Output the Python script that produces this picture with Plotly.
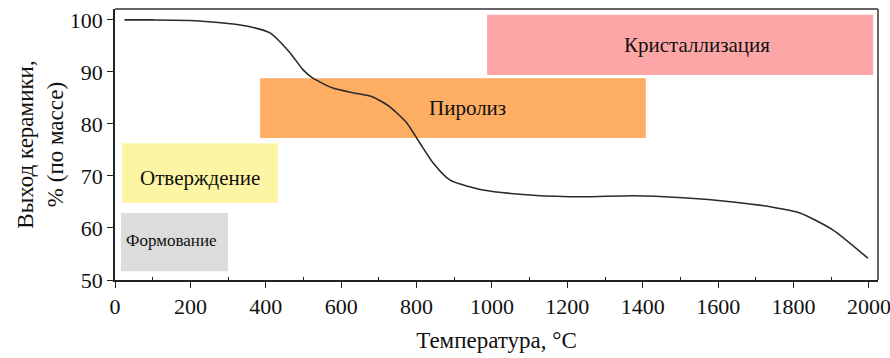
import plotly.graph_objects as go

temp = [25, 100, 200, 300, 358, 411, 464, 499, 525, 578, 631, 684, 729, 774, 809, 844, 889, 976,
        1109, 1241, 1374, 1507, 1639, 1745, 1817, 1905, 1997]
yield_pct = [100.0, 100.0, 99.9, 99.3, 98.7, 97.5, 93.7, 90.4, 88.8, 86.9, 86.0, 85.2, 83.3, 80.2,
             76.3, 72.5, 69.2, 67.3, 66.3, 66.0, 66.2, 65.8, 65.0, 64.0, 62.9, 59.6, 54.2]

stages = ["Формование", "Отверждение", "Пиролиз", "Кристаллизация"]
stage_x0 = [16, 19, 385, 987]
stage_x1 = [300, 432, 1408, 2011]
stage_y0 = [51.7, 64.8, 77.3, 89.4]
stage_y1 = [62.9, 76.3, 88.8, 101.0]
stage_colors = ["#dcdcdc", "#fcf6a4", "#fdae62", "#fda6a7"]
label_x = [151, 225, 936, 1544]
label_y = [57.5, 69.6, 83.0, 95.2]
label_sizes = [17, 21, 21, 21]

x_ticks = list(range(0, 2001, 200))
y_ticks = list(range(50, 101, 10))

font = "Liberation Serif"

fig = go.Figure()
shapes = []
annotations = []
for name, x0, x1, y0, y1, c, lx, ly, fs in zip(stages, stage_x0, stage_x1, stage_y0, stage_y1,
                                               stage_colors, label_x, label_y, label_sizes):
    shapes.append(dict(type="rect", xref="x", yref="y", x0=x0, x1=x1, y0=y0, y1=y1,
                       fillcolor=c, line=dict(width=0), layer="below"))
    annotations.append(dict(x=lx, y=ly, xref="x", yref="y", text=name, showarrow=False,
                            font=dict(family=font, size=fs, color="#111")))

fig.add_trace(go.Scatter(x=temp, y=yield_pct, mode="lines",
                         line=dict(color="#2a2a2a", width=1.6, shape="spline", smoothing=0.6),
                         hoverinfo="skip", showlegend=False))

fig.update_layout(
    width=890, height=358,
    margin=dict(l=115, r=12, t=9, b=78),
    paper_bgcolor="white", plot_bgcolor="white",
    shapes=shapes, annotations=annotations,
    font=dict(family=font, size=22, color="#111"),
    xaxis=dict(range=[0, 2024], tickvals=x_ticks, ticks="outside", ticklen=6, tickcolor="#222",
               showline=True, linecolor="#222", linewidth=1.5, mirror=False, showgrid=False,
               zeroline=False, tickfont=dict(family=font, size=22), automargin=False,
               ticklabeloverflow="allow",
               minor=dict(tickvals=list(range(100, 2000, 200)), ticks="inside", ticklen=3,
                          tickcolor="#222"),
               title=dict(text="Температура, °С", font=dict(family=font, size=23), standoff=14)),
    yaxis=dict(range=[50, 102.1], tickvals=y_ticks, ticks="outside", ticklen=6, tickcolor="#222",
               showline=True, linecolor="#222", linewidth=1.5, showgrid=False, zeroline=False,
               tickfont=dict(family=font, size=22), automargin=False,
               ticklabeloverflow="allow",
               title=dict(text="Выход керамики,<br>% (по массе)", font=dict(family=font, size=23),
                          standoff=0)),
)
# top and right frame lines (grey)
fig.add_shape(type="line", xref="paper", yref="paper", x0=0, x1=1, y0=1, y1=1,
              line=dict(color="#666", width=2))
fig.add_shape(type="line", xref="paper", yref="paper", x0=1, x1=1, y0=0, y1=1,
              line=dict(color="#666", width=2))

fig.write_html("out.html", config={"displayModeBar": False},
               post_script="document.body.style.margin='0';document.body.style.overflow='hidden';")
